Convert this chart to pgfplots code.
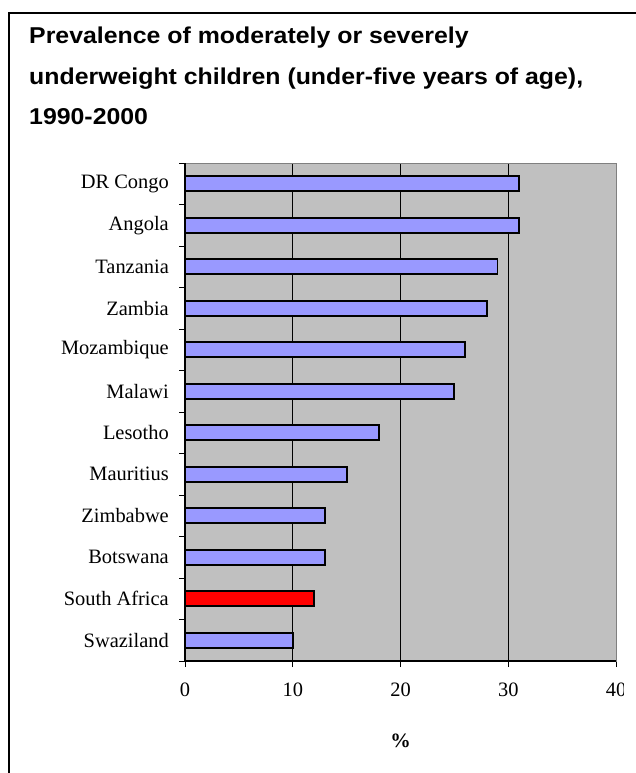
\documentclass[border=0pt]{standalone}
\usepackage{fontspec}
\setmainfont{Liberation Serif}
\newfontfamily\titlefont[FakeStretch=1.085]{Liberation Sans}
\usepackage{pgfplots}
\pgfplotsset{compat=1.18}
\definecolor{barblue}{HTML}{9999FF}
\definecolor{plotgray}{HTML}{C0C0C0}
\definecolor{bordergray}{HTML}{808080}
\begin{document}
\begin{tikzpicture}[x=1bp,y=1bp]
\useasboundingbox (0,0) rectangle (636,-773);
\clip (0,0) rectangle (636,-773);
\fill[white] (0,0) rectangle (636,-773);
\draw[line width=2bp] (9,-800) -- (9,-13) -- (660,-13);
\begin{scope}[every node/.style={anchor=base west, inner sep=0pt, font=\titlefont\bfseries\fontsize{23}{30}\selectfont}]
\node at (29,-44) {Prevalence of moderately or severely};
\node at (29,-84) {underweight children (under-five years of age),};
\node at (29,-124) {1990-2000};
\end{scope}
\begin{axis}[
  name=ax,
  at={(185bp,-661bp)}, anchor=south west,
  scale only axis, width=431bp, height=498bp,
  xmin=0, xmax=40, ymin=-0.5, ymax=11.5,
  axis background/.style={fill=plotgray},
  axis line style={bordergray, line width=1bp},
  xbar, bar width=0.36, bar shift=0pt,
  xtick={0,10,20,30,40}, xtick pos=bottom, ytick pos=left,
  tick align=outside, major tick length=6bp,
  tick style={black, line width=0.8bp},
  xmajorgrids, major grid style={black, line width=0.75bp},
  ytick={-0.5,0.5,...,11.5},
  yticklabels={Swaziland,South Africa,Botswana,Zimbabwe,Mauritius,Lesotho,Malawi,Mozambique,Zambia,Tanzania,Angola,DR Congo,{}},
  ticklabel style={font=\fontsize{20.5}{24}\selectfont},
  /pgf/number format/assume math mode=true,
  xticklabel style={anchor=base, inner sep=0pt, yshift=-29bp},
  yticklabel style={anchor=east, inner sep=0pt, xshift=-10bp, yshift=20.75bp},
  xlabel={\textbf{\%}},
  xlabel style={at={(axis description cs:0.5,0)}, anchor=base, yshift=-86bp, font=\fontsize{20.5}{24}\selectfont},
]
\addplot[fill=barblue, draw=black, line width=1.8bp] coordinates {
  (10,0) (13,2) (13,3) (15,4) (18,5) (25,6) (26,7) (28,8) (29,9) (31,10) (31,11)};
\addplot[fill=red, draw=black, line width=1.8bp] coordinates {(12,1)};
\end{axis}
\draw[black, line width=1.2bp] (ax.north west) -- (ax.south west) -- (ax.south east);
\fill[white] (624,-674) rectangle (640,-704);
\end{tikzpicture}
\end{document}
